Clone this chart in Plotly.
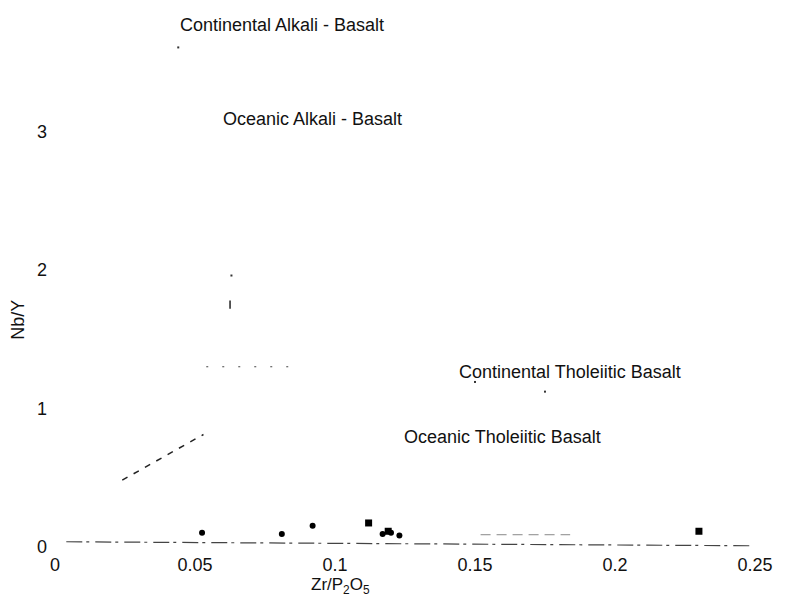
import plotly.graph_objects as go

# ---- data ----
x_ticks = [0, 0.05, 0.1, 0.15, 0.2, 0.25]
x_tick_labels = ["0", "0.05", "0.1", "0.15", "0.2", "0.25"]
y_ticks = [0, 1, 2, 3]
y_tick_labels = ["0", "1", "2", "3"]

# samples (Zr/P2O5, Nb/Y)
circle_x = [0.0525, 0.081, 0.092, 0.117, 0.120, 0.123]
circle_y = [0.10, 0.09, 0.15, 0.09, 0.10, 0.08]
square_x = [0.112, 0.119, 0.230]
square_y = [0.17, 0.11, 0.11]

# faint boundary fragments of the discrimination diagram
base_x = [0.004, 0.249]
base_y = [0.034, 0.005]
seg2_x = [0.152, 0.184]
seg2_y = [0.085, 0.085]
diag_x = [0.024, 0.053]
diag_y = [0.48, 0.81]
horiz_x = [0.054, 0.0875]
horiz_y = [1.30, 1.30]
vert_x = [0.0625, 0.0625]
vert_y = [1.72, 1.78]
dot_x = [0.063, 0.044, 0.150, 0.175]
dot_y = [1.96, 3.61, 1.19, 1.12]

# field labels
field_names = ["Continental Alkali - Basalt", "Oceanic Alkali - Basalt",
               "Continental Tholeiitic Basalt", "Oceanic Tholeiitic Basalt"]
field_x = [0.081, 0.092, 0.184, 0.160]
field_y = [3.77, 3.09, 1.26, 0.79]

FONT = "Liberation Sans, Arial, sans-serif"
INK = "#111111"
FS = 18

fig = go.Figure()
fig.add_trace(go.Scatter(x=base_x, y=base_y, mode="lines",
                         line=dict(color="#444", width=1.2, dash="16px,4px,3px,6px")))
fig.add_trace(go.Scatter(x=seg2_x, y=seg2_y, mode="lines",
                         line=dict(color="#888", width=1, dash="10px,6px")))
fig.add_trace(go.Scatter(x=diag_x, y=diag_y, mode="lines",
                         line=dict(color="#222", width=1.5, dash="6px,7px")))
fig.add_trace(go.Scatter(x=horiz_x, y=horiz_y, mode="lines",
                         line=dict(color="#444", width=1, dash="2px,14px")))
fig.add_trace(go.Scatter(x=vert_x, y=vert_y, mode="lines",
                         line=dict(color="#222", width=1.5)))
fig.add_trace(go.Scatter(x=dot_x, y=dot_y, mode="markers",
                         marker=dict(color="#333", size=2, symbol="square")))
fig.add_trace(go.Scatter(x=circle_x, y=circle_y, mode="markers",
                         marker=dict(color="black", size=6, symbol="circle")))
fig.add_trace(go.Scatter(x=square_x, y=square_y, mode="markers",
                         marker=dict(color="black", size=7, symbol="square")))

for name, fx, fy in zip(field_names, field_x, field_y):
    fig.add_annotation(x=fx, y=fy, text=name, showarrow=False,
                       font=dict(family=FONT, size=FS, color=INK),
                       xanchor="center", yanchor="middle")

fig.add_annotation(x=0.102, y=-0.0385, xref="x", yref="paper",
                   text="Zr/P<sub>2</sub>O<sub>5</sub>", showarrow=False,
                   font=dict(family=FONT, size=17, color=INK),
                   xanchor="center", yanchor="top")
fig.add_annotation(x=-0.0477, y=1.64, xref="paper", yref="y",
                   text="Nb/Y", textangle=-90, showarrow=False,
                   font=dict(family=FONT, size=FS, color=INK),
                   xanchor="center", yanchor="middle")

fig.update_layout(
    width=790, height=600,
    margin=dict(l=52, r=25, t=0, b=48),
    paper_bgcolor="white", plot_bgcolor="white",
    showlegend=False,
    font=dict(family=FONT, size=FS, color=INK),
    xaxis=dict(range=[-0.0011, 0.2536], tickvals=x_ticks, ticktext=x_tick_labels,
               showgrid=False, zeroline=False, showline=False, ticks="",
               tickfont=dict(size=FS)),
    yaxis=dict(range=[-0.04, 3.953], tickvals=y_ticks, ticktext=y_tick_labels,
               showgrid=False, zeroline=False, showline=False, ticks="",
               ticklabelstandoff=4, tickfont=dict(size=FS)),
)

fig.write_html("out.html")
